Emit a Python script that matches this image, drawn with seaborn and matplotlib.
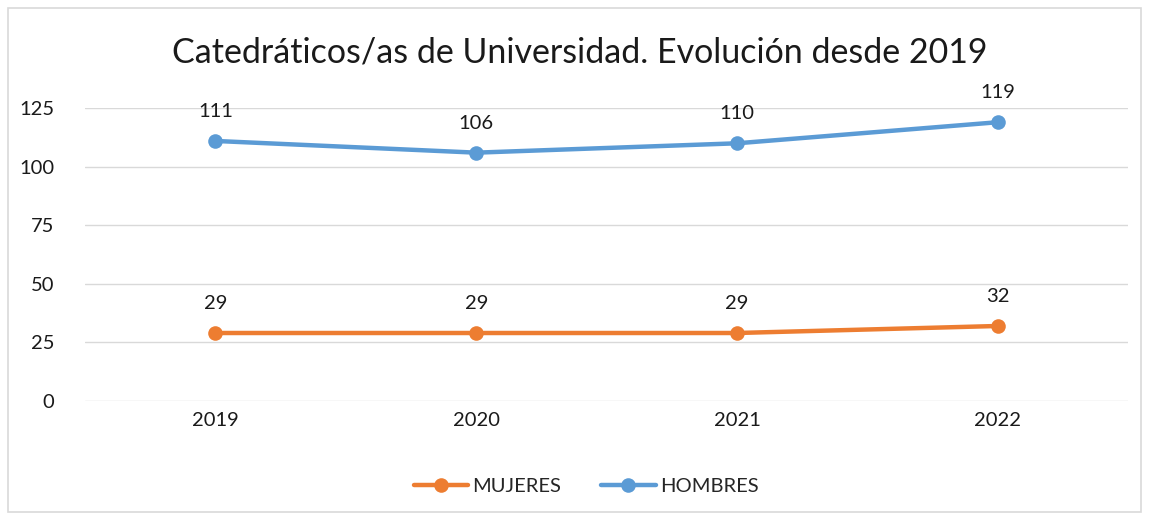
import numpy as np
import pandas as pd
import matplotlib.pyplot as plt
import seaborn as sns
from matplotlib.patches import Rectangle

years = ['2019', '2020', '2021', '2022']
mujeres = [29, 29, 29, 32]
hombres = [111, 106, 110, 119]
series = ['MUJERES', 'HOMBRES']
colors = ['#ED7D31', '#5B9BD5']

data = pd.DataFrame({
    'year': years * 2,
    'value': mujeres + hombres,
    'sexo': [series[0]] * len(years) + [series[1]] * len(years),
})

sns.set_style("white")
plt.rcParams['font.family'] = ['Lato', 'DejaVu Sans']

fig = plt.figure(figsize=(11.49, 5.2), dpi=100)
ax = fig.add_axes([0.074, 0.229, 0.908, 0.563])

sns.lineplot(data=data, x='year', y='value', hue='sexo', palette=colors,
             marker='o', markersize=10.5, markeredgewidth=0, linewidth=3.2,
             sort=False, ax=ax)

# etiquetas de valores
for vals in [mujeres, hombres]:
    for i, v in enumerate(vals):
        ax.annotate(str(v), (i, v), xytext=(0, 15), textcoords='offset points',
                    ha='center', va='bottom', fontsize=14.5, color='#1a1a1a')

ax.set_ylim(0, 125)
ax.set_yticks([0, 25, 50, 75, 100, 125])
ax.set_xlim(-0.5, 3.5)
ax.grid(axis='y', color='#D9D9D9', linewidth=1)
ax.set_axisbelow(True)
for s in ax.spines.values():
    s.set_visible(False)
ax.tick_params(axis='both', length=0, labelsize=14.5, colors='#1a1a1a', pad=8)
ax.tick_params(axis='y', pad=22)
ax.set_xlabel('')
ax.set_ylabel('')

fig.text(0.505, 0.9, 'Catedráticos/as de Universidad. Evolución desde 2019',
         ha='center', va='center', fontsize=24.5, color='#1a1a1a')

ax.get_legend().remove()
handles, labels = ax.get_legend_handles_labels()
fig.legend(handles, labels, loc='center', bbox_to_anchor=(0.51, 0.065), ncol=2,
           frameon=False, fontsize=14.5, handlelength=2.7, columnspacing=2.0,
           handletextpad=0.2)

fig.patches.append(Rectangle((0.007, 0.015), 0.986, 0.97, transform=fig.transFigure,
                             fill=False, edgecolor='#D9D9D9', linewidth=1.2))

plt.savefig("out.png", dpi=100)
